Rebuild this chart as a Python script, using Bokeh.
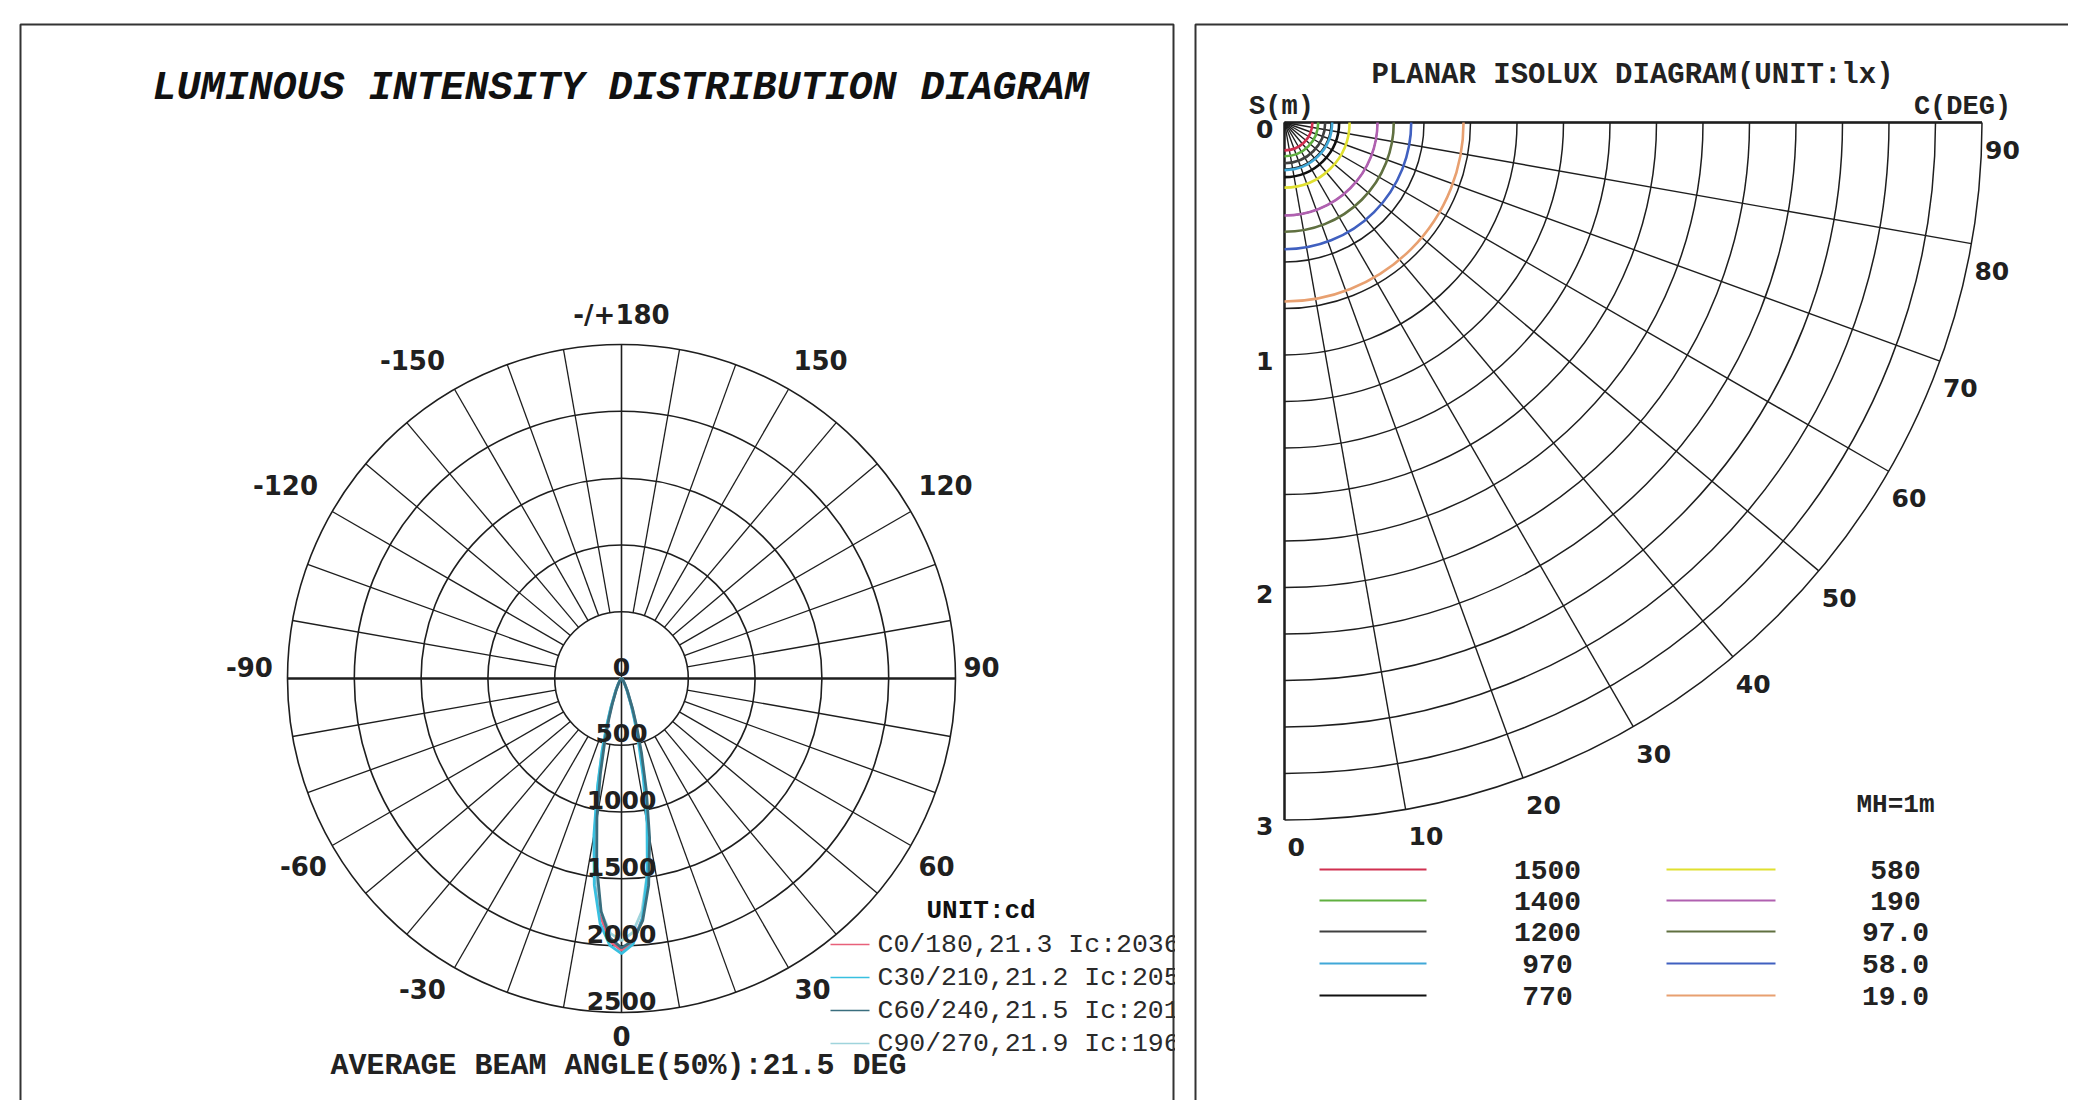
import numpy as np
from bokeh.plotting import figure
from bokeh.layouts import row
from bokeh.embed import file_html
from bokeh.resources import INLINE
from bokeh.core.properties import value
from bokeh.models import Range1d

# ---------------- DATA ----------------
# Luminous intensity distribution (cd) vs gamma angle (deg)
gamma_deg = [0, 2.5, 5, 7.5, 10, 12.5, 15, 17.5, 20, 25, 30, 40, 50, 60, 70, 80, 90]
i_c0   = [2036, 1975, 1800, 1500, 1130, 790, 530, 345, 225, 100, 50, 16, 7, 3, 2, 1, 0]
i_c180 = [2036, 1970, 1790, 1480, 1120, 780, 520, 340, 220, 98, 48, 16, 7, 3, 2, 1, 0]
i_c30  = [2059, 1990, 1800, 1480, 1100, 750, 490, 320, 208, 92, 45, 15, 7, 3, 2, 1, 0]
i_c210 = [2059, 2000, 1840, 1560, 1190, 830, 560, 365, 235, 104, 51, 16, 7, 3, 2, 1, 0]
i_c60  = [2016, 1965, 1820, 1560, 1210, 860, 580, 380, 245, 108, 53, 17, 7, 3, 2, 1, 0]
i_c240 = [2016, 1945, 1750, 1420, 1060, 730, 480, 310, 200, 90, 44, 15, 7, 3, 2, 1, 0]
i_c90  = [1962, 1905, 1750, 1475, 1140, 815, 550, 362, 236, 106, 52, 17, 7, 3, 2, 1, 0]
i_c270 = [1962, 1910, 1755, 1480, 1145, 820, 555, 365, 238, 107, 53, 17, 7, 3, 2, 1, 0]

plane_labels = ["C0/180,21.3 Ic:2036", "C30/210,21.2 Ic:2059",
                "C60/240,21.5 Ic:2016", "C90/270,21.9 Ic:1962"]
plane_colors = ["#e8607a", "#38c0e0", "#3a6e7e", "#9fd4dc"]

ring_values = [0, 500, 1000, 1500, 2000, 2500]
angle_ticks = [0, 30, 60, 90, 120, 150, 180, -150, -120, -90, -60, -30]
angle_tick_labels = ["0", "30", "60", "90", "120", "150", "-/+180",
                     "-150", "-120", "-90", "-60", "-30"]
spoke_angles = [a for a in range(-170, 180, 10) if a not in (0, 90, -90)]
beam_text = "AVERAGE BEAM ANGLE(50%):21.5 DEG"

# Planar isolux diagram
isolux_levels = ["1500", "1400", "1200", "970", "770", "580", "190", "97.0", "58.0", "19.0"]
isolux_radius_m = [0.12, 0.145, 0.175, 0.205, 0.235, 0.28, 0.40, 0.47, 0.545, 0.77]
isolux_colors = ["#d03050", "#60b040", "#404040", "#40a8d8", "#101010",
                 "#e0e030", "#b060b0", "#607040", "#4060c0", "#e8a070"]
grid_radius_m = [0.2, 0.4, 0.6, 0.8, 1.0, 1.2, 1.4, 1.6, 1.8, 2.0, 2.2, 2.4, 2.6, 2.8, 3.0]
c_angle_ticks = [0, 10, 20, 30, 40, 50, 60, 70, 80, 90]
s_ticks = [0, 1, 2, 3]
mh_text = "MH=1m"

# ---------------- LAYOUT ----------------
MONO = value("Liberation Mono")
SANS = value("DejaVu Sans")
P0 = 0          # page offset of the layout
H = 1100
LW = 1175
RW = 2068 - LW

# left panel: data units are candela
K = 334.0 / 2500.0
CX, CY = 621.0, 678.0
def lx(px): return (px - CX) / K
def ly(py): return (CY - py) / K

p1 = figure(width=LW, height=H, x_range=Range1d(lx(P0), lx(P0 + LW)),
            y_range=Range1d(ly(P0 + H), ly(P0)), output_backend="svg",
            toolbar_location=None, min_border=0, x_axis_location=None,
            y_axis_location=None, outline_line_color=None)
p1.grid.visible = False
p1.background_fill_color = "white"
p1.border_fill_color = "white"

RMAX = ring_values[-1]
p1.circle(x=0, y=0, radius=ring_values[1:], fill_color=None,
          line_color="#1e1e1e", line_width=1.6)
a = np.radians(spoke_angles)
p1.segment(x0=ring_values[1] * np.sin(a), y0=-ring_values[1] * np.cos(a),
           x1=RMAX * np.sin(a), y1=-RMAX * np.cos(a),
           line_color="#1e1e1e", line_width=1.3)
p1.segment(x0=0, y0=-RMAX, x1=0, y1=RMAX, line_color="#1e1e1e", line_width=1.6)
p1.segment(x0=-RMAX, y0=0, x1=RMAX, y1=0, line_color="#1e1e1e", line_width=2.6)

g = np.radians(gamma_deg)
pairs = [(i_c0, i_c180), (i_c30, i_c210), (i_c60, i_c240), (i_c90, i_c270)]
for idx in [0, 3, 1, 2]:
    right, left = np.array(pairs[idx][0], float), np.array(pairs[idx][1], float)
    xs = np.concatenate([(-left * np.sin(g))[::-1], right * np.sin(g)])
    ys = np.concatenate([(-left * np.cos(g))[::-1], -right * np.cos(g)])
    p1.line(xs, ys, line_color=plane_colors[idx], line_width=2.8)

p1.text(x=[0] * len(ring_values), y=[-r for r in ring_values],
        text=[str(r) for r in ring_values], y_offset=-12,
        text_align="center", text_baseline="middle", text_font=SANS,
        text_font_style="bold", text_font_size="25px", text_color="#202020")
# angle labels: fine placement offsets (screen px) per label
lab_dx = [0, 8, -2, -6, 7, 16, 0, -26, -19, -6, -1, -16]
lab_dy = [-9, -7, 4, -12, -10, -1, 3, -1, -10, -12, 4, -7]
ta = np.radians(angle_ticks)
p1.text(x=2740 * np.sin(ta), y=-2740 * np.cos(ta), text=angle_tick_labels,
        x_offset=lab_dx, y_offset=lab_dy, text_align="center", text_baseline="middle",
        text_font=SANS, text_font_style="bold", text_font_size="26px",
        text_color="#202020")

p1.text(x=[lx(620)], y=[ly(88)], text=["LUMINOUS INTENSITY DISTRIBUTION DIAGRAM"],
        text_align="center", text_baseline="middle", text_font=MONO,
        text_font_style="bold italic", text_font_size="40px", text_color="#111111")
p1.text(x=[lx(618)], y=[ly(1065)], text=[beam_text], text_align="center",
        text_baseline="middle", text_font=MONO, text_font_style="bold",
        text_font_size="30px", text_color="#222222")
p1.text(x=[lx(926)], y=[ly(910)], text=["UNIT:cd"], text_align="left",
        text_baseline="middle", text_font=MONO, text_font_style="bold",
        text_font_size="26px", text_color="#111111")
leg_rows = [944, 977, 1010, 1043]
for i, lab in enumerate(plane_labels):
    p1.segment(x0=[lx(830)], y0=[ly(leg_rows[i])], x1=[lx(869)], y1=[ly(leg_rows[i])],
               line_color=plane_colors[i], line_width=1.5)
    p1.text(x=[lx(877)], y=[ly(leg_rows[i])], text=[lab], text_align="left",
            text_baseline="middle", text_font=MONO, text_font_size="26.5px",
            text_color="#2a2a2a")
p1.multi_line(xs=[[lx(20), lx(20), lx(1173), lx(1173)]],
              ys=[[ly(1130), ly(24), ly(24), ly(1130)]],
              line_color="#333333", line_width=2)

# right panel: data units metres
S = 232.5
OX, OY = 1284.0, 122.0
RX0 = P0 + LW
def rx(px): return (px - OX) / S
def ry(py): return (OY - py) / S

p2 = figure(width=RW, height=H, x_range=Range1d(rx(RX0), rx(RX0 + RW)),
            y_range=Range1d(ry(P0 + H), ry(P0)), output_backend="svg",
            toolbar_location=None, min_border=0, x_axis_location=None,
            y_axis_location=None, outline_line_color=None)
p2.grid.visible = False
p2.background_fill_color = "white"
p2.border_fill_color = "white"

RM = grid_radius_m[-1]
p2.arc(x=0, y=0, radius=grid_radius_m, start_angle=-np.pi / 2, end_angle=0,
       line_color="#1e1e1e", line_width=1.5)
ca = np.radians(c_angle_ticks)
p2.segment(x0=0, y0=0, x1=RM * np.sin(ca), y1=-RM * np.cos(ca),
           line_color="#1e1e1e", line_width=1.4)
p2.segment(x0=[0, 0], y0=[0, 0], x1=[RM, 0], y1=[0, -RM],
           line_color="#1e1e1e", line_width=2.4)
p2.arc(x=0, y=0, radius=isolux_radius_m, start_angle=-np.pi / 2, end_angle=0,
       line_color=isolux_colors, line_width=2.6)

p2.text(x=RM * np.sin(ca), y=-RM * np.cos(ca), text=[str(c) for c in c_angle_ticks],
        x_offset=3, y_offset=27, text_align="left", text_baseline="middle",
        text_font=SANS, text_font_style="bold", text_font_size="25px",
        text_color="#202020")
p2.text(x=[rx(1273)] * len(s_ticks), y=[-s for s in s_ticks], text=[str(s) for s in s_ticks],
        y_offset=6, text_align="right", text_baseline="middle", text_font=SANS,
        text_font_style="bold", text_font_size="25px", text_color="#202020")
p2.text(x=[rx(1632)], y=[ry(75)], text=["PLANAR ISOLUX DIAGRAM(UNIT:lx)"],
        text_align="center", text_baseline="middle", text_font=MONO,
        text_font_style="bold", text_font_size="29px", text_color="#222222")
p2.text(x=[rx(1281), rx(1962)], y=[ry(106), ry(106)], text=["S(m)", "C(DEG)"],
        text_align="center", text_baseline="middle", text_font=MONO,
        text_font_style="bold", text_font_size="27px", text_color="#222222")
p2.text(x=[rx(1895)], y=[ry(804)], text=[mh_text], text_align="center",
        text_baseline="middle", text_font=MONO, text_font_style="bold",
        text_font_size="26px", text_color="#222222")
rows_y = [869, 900, 931, 963, 995]
for i, lev in enumerate(isolux_levels):
    col = i // 5
    r = i % 5
    x0, x1, xt = [(1319, 1426, 1547), (1666, 1775, 1895)][col]
    p2.segment(x0=[rx(x0)], y0=[ry(rows_y[r])], x1=[rx(x1)], y1=[ry(rows_y[r])],
               line_color=isolux_colors[i], line_width=2)
    p2.text(x=[rx(xt)], y=[ry(rows_y[r])], text=[lev], text_align="center",
            text_baseline="middle", text_font=MONO, text_font_style="bold",
            text_font_size="28px", text_color="#222222")
p2.multi_line(xs=[[rx(1195), rx(1195), rx(2100)]], ys=[[ry(1130), ry(24), ry(24)]],
              line_color="#333333", line_width=2)

layout = row(p1, p2, spacing=0)
open("out.html", "w").write(file_html(layout, INLINE))
